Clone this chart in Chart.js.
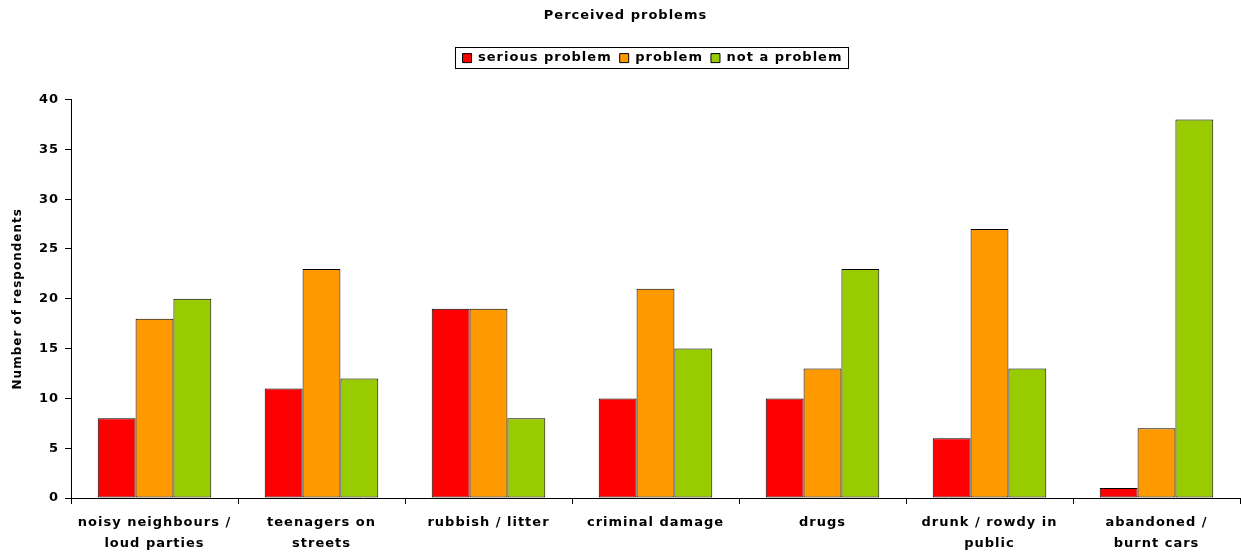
<!DOCTYPE html>
<html>
<head>
<meta charset="utf-8">
<script src="https://cdn.jsdelivr.net/npm/chart.js@4/dist/chart.umd.min.js"></script>
<style>
  html, body { margin: 0; padding: 0; background: #fff; }
  #wrap { width: 1241px; height: 555px; }
</style>
</head>
<body>
<div id="wrap"><canvas id="chart"></canvas></div>
<script>
const categories = [
  ["noisy neighbours /", "loud parties"],
  ["teenagers on", "streets"],
  ["rubbish / litter"],
  ["criminal damage"],
  ["drugs"],
  ["drunk / rowdy in", "public"],
  ["abandoned /", "burnt cars"]
];
const seriousProblem = [8, 11, 19, 10, 10, 6, 1];
const problem = [18, 23, 19, 21, 13, 27, 7];
const notAProblem = [20, 12, 8, 15, 23, 13, 38];

const font = "'DejaVu Sans', Verdana, sans-serif";
const legendShift = 27;

// wider letter spacing (the original font is a wide Verdana),
// extra gap under the legend and legend nudged right like in the original
const tweaks = {
  id: "tweaks",
  beforeLayout(chart) {
    chart.ctx.letterSpacing = "1px";
    const leg = chart.legend;
    if (leg && !leg._patched) {
      const fit = leg.fit;
      leg.fit = function () {
        fit.call(this);
        this.height += 25;
      };
      leg._patched = true;
    }
  },
  afterLayout(chart) {
    const leg = chart.legend;
    leg.left += legendShift;
    leg.right += legendShift;
    (leg.legendHitBoxes || []).forEach((b) => { b.left += legendShift; });
  },
  beforeDraw(chart) {
    chart.ctx.letterSpacing = "1px";
  }
};

// box around the legend, like the original
const legendBox = {
  id: "legendBox",
  afterDraw(chart) {
    const boxes = chart.legend.legendHitBoxes;
    if (!boxes || !boxes.length) return;
    const first = boxes[0];
    const last = boxes[boxes.length - 1];
    const ctx = chart.ctx;
    ctx.save();
    ctx.strokeStyle = "#000";
    ctx.lineWidth = 1;
    ctx.strokeRect(Math.round(first.left) - 7.5, Math.round(first.top) - 4.5,
      Math.round(last.left + last.width - first.left) + 13, Math.round(first.height) + 8);
    ctx.restore();
  }
};

new Chart(document.getElementById("chart").getContext("2d"), {
  type: "bar",
  data: {
    labels: categories,
    datasets: [
      { label: "serious problem", data: seriousProblem, backgroundColor: "#FF0000" },
      { label: "problem", data: problem, backgroundColor: "#FF9900" },
      { label: "not a problem", data: notAProblem, backgroundColor: "#99CC00" }
    ].map((d) => ({
      ...d,
      borderColor: "#000",
      borderWidth: 1,
      borderSkipped: false,
      categoryPercentage: 0.68,
      barPercentage: 1
    }))
  },
  plugins: [tweaks, legendBox],
  options: {
    responsive: true,
    maintainAspectRatio: false,
    animation: false,
    layout: { padding: { left: 11, right: 1, top: 8, bottom: 1 } },
    plugins: {
      title: {
        display: true,
        text: "Perceived problems",
        color: "#000",
        font: { family: font, size: 13, weight: "bold" },
        padding: { top: 0, bottom: 20 }
      },
      legend: {
        position: "top",
        labels: {
          color: "#000",
          boxWidth: 9,
          boxHeight: 9,
          padding: 8,
          font: { family: font, size: 13, weight: "bold" }
        }
      },
      tooltip: { enabled: false }
    },
    scales: {
      x: {
        afterFit(scale) { scale.height = 56; },
        grid: { display: true, drawOnChartArea: false, color: "#000", tickLength: 6, offset: true },
        border: { color: "#000", width: 1 },
        ticks: {
          color: "#000",
          maxRotation: 0,
          autoSkip: false,
          padding: 8,
          font: { family: font, size: 13, weight: "bold", lineHeight: 1.6 }
        }
      },
      y: {
        min: 0,
        max: 40,
        afterFit(scale) { scale.width = 60; },
        grid: { display: true, drawOnChartArea: false, color: "#000", tickLength: 6 },
        border: { color: "#000", width: 1 },
        ticks: { stepSize: 5, color: "#000", padding: 6, font: { family: font, size: 13, weight: "bold" } },
        title: {
          display: true,
          text: "Number of respondents",
          color: "#000",
          padding: { top: 0, bottom: 8 },
          font: { family: font, size: 12, weight: "bold" }
        }
      }
    }
  }
});
</script>
</body>
</html>
